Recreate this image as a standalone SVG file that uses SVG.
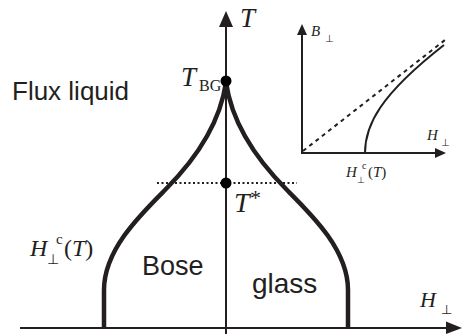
<svg xmlns="http://www.w3.org/2000/svg" width="466" height="334" viewBox="0 0 466 334">
<style>
.ax{stroke:#231f20;stroke-width:2;fill:none}
.ax2{stroke:#231f20;stroke-width:2;fill:none}
.cv{stroke:#231f20;stroke-width:4.5;fill:none;stroke-linecap:butt}
.m{font-family:"Liberation Serif","DejaVu Serif",serif;font-style:italic;fill:#231f20}
.r{font-family:"Liberation Serif","DejaVu Serif",serif;fill:#231f20}
.s{font-family:"Liberation Sans",Arial,sans-serif;fill:#231f20}
.perp{font-family:"DejaVu Sans",sans-serif;fill:#231f20}
</style>
<rect width="466" height="334" fill="#fff"/>
<g id="connectors">
  <line class="ax" x1="20" y1="328" x2="448" y2="328"/>
  <polygon points="462,328 446,321.5 446,334" fill="#231f20"/>
  <line class="ax" x1="226" y1="334" x2="226" y2="24"/>
  <polygon points="226,11 219,27 233,27" fill="#231f20"/>
  <line x1="157" y1="183" x2="297" y2="183" stroke="#231f20" stroke-width="2" stroke-dasharray="2,2.5"/>
  <path class="cv" d="M104,328 L104,290 C104,250 140,215 165,190 C195,160 220,125 226,82"/>
  <path class="cv" d="M348,328 L348,290 C348,250 312,215 287,190 C257,160 232,125 226,82"/>
</g>
<g id="flux-liquid"><text class="s" x="12" y="100" font-size="26">Flux liquid</text></g>
<g id="bose"><text class="s" x="142" y="275" font-size="27">Bose</text></g>
<g id="glass"><text class="s" x="252" y="293" font-size="28">glass</text></g>
<g id="tbg">
  <circle cx="226" cy="81" r="5.5" fill="#000"/>
  <text class="m" x="181" y="86" font-size="27">T</text>
  <text class="r" x="199" y="91" font-size="16">BG</text>
</g>
<g id="tstar">
  <circle cx="226" cy="183" r="5.5" fill="#000"/>
  <text class="m" x="234" y="212" font-size="28">T</text>
  <text class="r" x="250" y="205" font-size="22">*</text>
</g>
<g id="t-label"><text class="m" x="240" y="27" font-size="27">T</text></g>
<g id="hc-label">
  <text class="m" x="30" y="256" font-size="24">H</text>
  <text class="perp" x="47" y="264" font-size="14">⊥</text>
  <text class="r" x="56" y="244" font-size="15">c</text>
  <text class="r" x="64" y="256" font-size="24">(<tspan class="m">T</tspan>)</text>
</g>
<g id="h-label">
  <text class="m" x="420" y="307" font-size="22">H</text>
  <text class="perp" x="441" y="314" font-size="13">⊥</text>
</g>
<g id="inset">
  <line class="ax2" x1="302" y1="153" x2="302" y2="34"/>
  <polygon points="302,24 297,35 307,35" fill="#231f20"/>
  <line class="ax2" x1="301" y1="153" x2="436" y2="153"/>
  <polygon points="446,153 435,148 435,158" fill="#231f20"/>
  <line x1="303" y1="151" x2="445" y2="40" stroke="#231f20" stroke-width="2" stroke-dasharray="4,4"/>
  <path d="M365,153 C365,125 380,95 444,45" stroke="#231f20" stroke-width="2" fill="none"/>
  <text class="m" x="311" y="36" font-size="15">B</text>
  <text class="perp" x="325" y="42" font-size="10">⊥</text>
  <text class="m" x="427" y="140" font-size="15">H</text>
  <text class="perp" x="441" y="146" font-size="10">⊥</text>
  <text class="m" x="346" y="177" font-size="15">H</text>
  <text class="perp" x="357" y="183" font-size="9">⊥</text>
  <text class="r" x="362" y="169" font-size="10">c</text>
  <text class="r" x="368" y="177" font-size="15">(<tspan class="m">T</tspan>)</text>
</g>
</svg>
